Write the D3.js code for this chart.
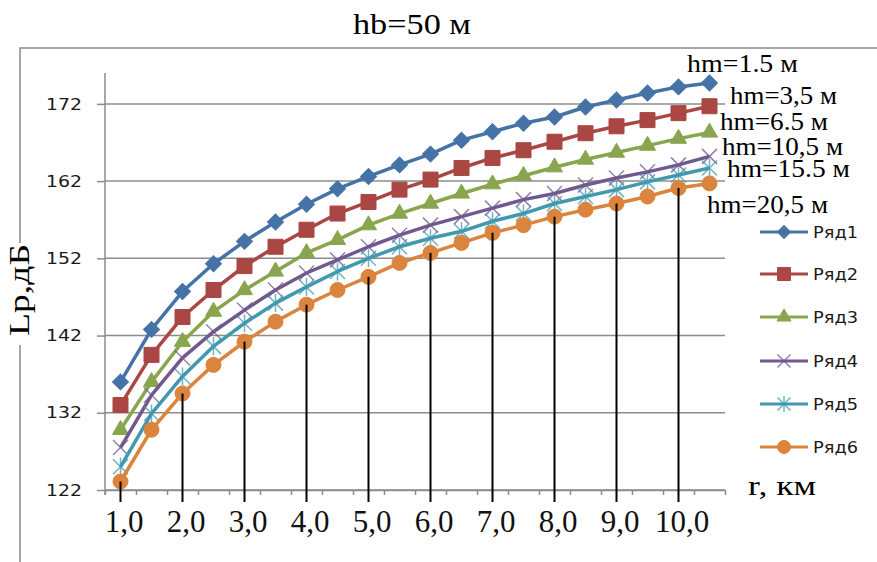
<!DOCTYPE html>
<html>
<head>
<meta charset="utf-8">
<script src="https://cdn.jsdelivr.net/npm/d3@7"></script>
<style>
  body { margin: 0; background: #fff; }
  svg { display: block; }
</style>
</head>
<body>
<div id="chart"></div>
<script>
// data
var rValues = [1.0, 1.5, 2.0, 2.5, 3.0, 3.5, 4.0, 4.5, 5.0, 5.5, 6.0, 6.5, 7.0, 7.5, 8.0, 8.5, 9.0, 9.5, 10.0, 10.5];
var seriesNames = ["Ряд1", "Ряд2", "Ряд3", "Ряд4", "Ряд5", "Ряд6"];
var ryad1 = [136.0, 142.8, 147.7, 151.3, 154.2, 156.7, 159.0, 161.0, 162.6, 164.1, 165.5, 167.3, 168.4, 169.5, 170.3, 171.6, 172.5, 173.4, 174.2, 174.7];
var ryad2 = [133.0, 139.5, 144.4, 147.9, 151.0, 153.5, 155.7, 157.8, 159.3, 160.9, 162.2, 163.7, 165.0, 166.0, 167.1, 168.2, 169.1, 169.9, 170.8, 171.7];
var ryad3 = [129.8, 136.0, 141.2, 145.1, 147.9, 150.3, 152.7, 154.4, 156.3, 157.8, 159.1, 160.4, 161.6, 162.7, 163.8, 164.8, 165.7, 166.6, 167.5, 168.3];
var ryad4 = [127.5, 134.3, 139.1, 142.5, 145.3, 147.9, 150.1, 151.8, 153.5, 155.0, 156.3, 157.4, 158.5, 159.6, 160.4, 161.5, 162.4, 163.2, 164.1, 165.2];
var ryad5 = [125.0, 131.9, 136.7, 140.6, 143.6, 146.2, 148.3, 150.3, 152.0, 153.5, 154.6, 155.5, 156.8, 157.8, 159.1, 160.0, 160.9, 161.9, 162.8, 163.7];
var ryad6 = [123.1, 129.8, 134.5, 138.2, 141.2, 143.8, 146.0, 147.9, 149.6, 151.4, 152.7, 154.0, 155.3, 156.3, 157.4, 158.3, 159.1, 160.0, 161.1, 161.7];
var yTicks = [122, 132, 142, 152, 162, 172];
var xLabels = [1, 2, 3, 4, 5, 6, 7, 8, 9, 10];
var hmLabels = ["hm=1.5 м", "hm=3,5 м", "hm=6.5 м", "hm=10,5 м", "hm=15.5 м", "hm=20,5 м"];
var titleText = "hb=50 м";
var yTitle = "Lp,дБ";
var xTitle = "r, км";

var allSeries = [ryad1, ryad2, ryad3, ryad4, ryad5, ryad6];

// styles
var colors = ["#4572A7", "#AA4643", "#89A54E", "#71588F", "#4198AF", "#DB843D"];
var markers = ["diamond", "square", "triangle", "times", "star", "circle"];

var W = 877, H = 562;
var plot = {left: 105, right: 725, top: 73, bottom: 490};

var svg = d3.select("#chart")
  .append("svg")
    .attr("width", W)
    .attr("height", H);

// chart area border
svg.append("rect")
  .attr("x", 20).attr("y", 48)
  .attr("width", 900).attr("height", 600)
  .attr("fill", "#fff")
  .attr("stroke", "#8a8a8a")
  .attr("stroke-width", 1.5);

var x = d3.scaleLinear()
  .domain([0.75, 10.75])
  .range([plot.left, plot.right]);

var y = d3.scaleLinear()
  .domain([122, 176])
  .range([plot.bottom, plot.top]);

// gridlines
svg.append("g")
  .selectAll("line")
  .data(yTicks)
  .enter()
  .append("line")
    .attr("x1", plot.left)
    .attr("x2", plot.right)
    .attr("y1", function(d) { return y(d); })
    .attr("y2", function(d) { return y(d); })
    .attr("stroke", "#8c8c8c")
    .attr("stroke-width", 1.5);

// Y axis
var yAxis = svg.append("g")
  .attr("transform", "translate(" + plot.left + ",0)")
  .call(d3.axisLeft(y).tickValues(yTicks).tickSize(8).tickPadding(15).tickSizeOuter(0));
yAxis.select(".domain").attr("stroke", "#8c8c8c").attr("stroke-width", 1.5)
  .attr("d", "M0," + plot.top + "V" + (plot.bottom + 5));
yAxis.selectAll(".tick line").attr("stroke", "#8c8c8c").attr("stroke-width", 1.5);
yAxis.selectAll("text")
  .attr("font-family", "DejaVu Sans")
  .attr("font-size", 16)
  .attr("fill", "#1a1a1a")
  .attr("textLength", 36)
  .attr("lengthAdjust", "spacingAndGlyphs");

// X axis: minor ticks at category edges
var edges = d3.range(0.75, 10.76, 0.5);
var xTickAxis = svg.append("g")
  .attr("transform", "translate(0," + plot.bottom + ")")
  .call(d3.axisBottom(x).tickValues(edges).tickSize(5).tickFormat("").tickSizeOuter(0));
xTickAxis.select(".domain").attr("stroke", "#8c8c8c").attr("stroke-width", 1.5);
xTickAxis.selectAll(".tick line").attr("stroke", "#8c8c8c").attr("stroke-width", 1.5);

// X labels
var xLabelAxis = svg.append("g")
  .attr("transform", "translate(0," + plot.bottom + ")")
  .call(d3.axisBottom(x).tickValues(xLabels).tickSize(0)
    .tickFormat(function(d) { return d.toFixed(1).replace(".", ","); }));
xLabelAxis.select(".domain").remove();
xLabelAxis.selectAll("text")
  .attr("font-family", "Liberation Serif")
  .attr("font-size", 31)
  .attr("fill", "#111")
  .attr("dy", 0)
  .attr("dx", 3)
  .attr("y", 42);

// marker shapes
function markerPath(type, s) {
  if (type == "diamond") return d3.symbol(d3.symbolSquare, s * s / 2)();
  if (type == "square") return d3.symbol(d3.symbolSquare, s * s)();
  if (type == "triangle") return d3.symbol(d3.symbolTriangle, s * s * 0.5)();
  if (type == "circle") return d3.symbol(d3.symbolCircle, Math.PI * s * s / 4)();
  var h = s / 2;
  if (type == "times") return "M" + (-h) + "," + (-h) + "L" + h + "," + h + "M" + (-h) + "," + h + "L" + h + "," + (-h);
  // star
  return "M" + (-h) + "," + (-h) + "L" + h + "," + h + "M" + (-h) + "," + h + "L" + h + "," + (-h) +
         "M0," + (-h * 1.2) + "V" + (h * 1.2);
}

function drawMarker(sel, i, s) {
  var p = sel.append("path").attr("d", markerPath(markers[i], s));
  if (markers[i] == "times" || markers[i] == "star") {
    p.attr("fill", "none").attr("stroke", colors[i]).attr("stroke-width", 1.5).attr("stroke-opacity", 0.75);
  } else {
    p.attr("fill", colors[i]).attr("stroke", colors[i]).attr("stroke-width", 1);
  }
  if (markers[i] == "diamond") p.attr("transform", "rotate(45)");
  return p;
}

var line = d3.line()
  .x(function(d, j) { return x(rValues[j]); })
  .y(function(d) { return y(d); });

// Lines + markers
allSeries.forEach(function(vals, i) {
  svg.append("path")
    .datum(vals)
    .attr("fill", "none")
    .attr("stroke", colors[i])
    .attr("stroke-width", 3.5)
    .attr("stroke-linejoin", "round")
    .attr("d", line);

  svg.append("g")
    .selectAll("g")
    .data(vals)
    .enter()
    .append("g")
      .attr("transform", function(d, j) { return "translate(" + x(rValues[j]) + "," + y(d) + ")"; })
      .each(function() { drawMarker(d3.select(this), i, i == 0 ? 16 : 15); });
});

// black drop lines from Ряд6 at whole km
svg.append("g")
  .selectAll("line")
  .data(xLabels)
  .enter()
  .append("line")
    .attr("x1", function(d) { return x(d); })
    .attr("x2", function(d) { return x(d); })
    .attr("y1", function(d) { return y(ryad6[rValues.indexOf(d)]); })
    .attr("y2", plot.bottom + 12)
    .attr("stroke", "#000")
    .attr("stroke-width", 2);

// Legend
var legY = [232, 274, 317, 361, 404, 447];
var leg = svg.append("g");
seriesNames.forEach(function(name, i) {
  var g = leg.append("g").attr("transform", "translate(0," + legY[i] + ")");
  g.append("line")
    .attr("x1", 760).attr("x2", 808)
    .attr("stroke", colors[i]).attr("stroke-width", 3);
  drawMarker(g.append("g").attr("transform", "translate(784,0)"), i, 13);
  g.append("text")
    .attr("x", 813).attr("y", 6)
    .attr("font-family", "DejaVu Sans")
    .attr("font-size", 16)
    .attr("fill", "#1a1a1a")
    .attr("textLength", 45)
    .attr("lengthAdjust", "spacingAndGlyphs")
    .text(name);
});

// hm annotations
var hmPos = [[687, 72, 111], [730, 104, 107], [720, 130, 108], [722, 155, 121], [727, 177, 123], [707, 213, 121]];
hmLabels.forEach(function(t, i) {
  svg.append("text")
    .attr("x", hmPos[i][0]).attr("y", hmPos[i][1])
    .attr("font-family", "Liberation Serif")
    .attr("font-size", 25)
    .attr("fill", "#000")
    .attr("textLength", hmPos[i][2])
    .attr("lengthAdjust", "spacingAndGlyphs")
    .text(t);
});

// title
svg.append("text")
  .attr("x", 353).attr("y", 34)
  .attr("font-family", "Liberation Serif")
  .attr("font-size", 29)
  .attr("fill", "#000")
  .attr("textLength", 118)
  .attr("lengthAdjust", "spacingAndGlyphs")
  .text(titleText);

// x title
svg.append("text")
  .attr("x", 748).attr("y", 495)
  .attr("font-family", "Liberation Serif")
  .attr("font-size", 27)
  .attr("fill", "#000")
  .attr("textLength", 68)
  .attr("lengthAdjust", "spacingAndGlyphs")
  .text(xTitle);

// y title with white box over the border
svg.append("rect")
  .attr("x", 8).attr("y", 243)
  .attr("width", 32).attr("height", 102)
  .attr("fill", "#fff");
svg.append("text")
  .attr("transform", "translate(29,290) rotate(-90)")
  .attr("text-anchor", "middle")
  .attr("font-family", "Liberation Serif")
  .attr("font-size", 29)
  .attr("fill", "#000")
  .attr("textLength", 92)
  .attr("lengthAdjust", "spacingAndGlyphs")
  .text(yTitle);
</script>
</body>
</html>
